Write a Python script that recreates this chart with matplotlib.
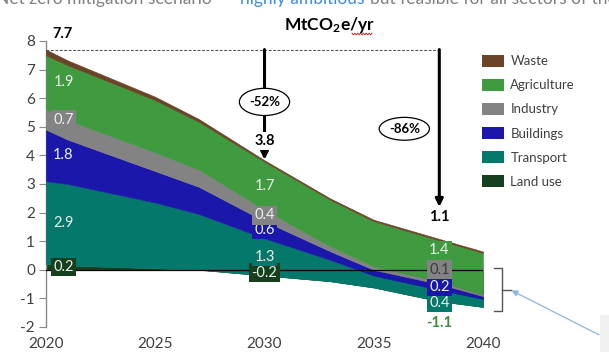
import numpy as np
import matplotlib
matplotlib.use("Agg")
import matplotlib.pyplot as plt
from matplotlib.patches import Ellipse, Rectangle, Patch

plt.rcParams["font.family"] = ["Lato", "DejaVu Sans"]
plt.rcParams["axes.unicode_minus"] = False
plt.rcParams["mathtext.fontset"] = "custom"
plt.rcParams["mathtext.bf"] = "Lato:bold"
plt.rcParams["mathtext.rm"] = "Lato"

# ---- data (MtCO2e/yr) ----
years = [2020, 2021, 2025, 2027, 2030, 2033, 2035, 2038, 2040]
land_use    = [0.20, 0.15, 0.05, 0.00, -0.20, -0.40, -0.62, -1.10, -1.30]
transport   = [2.90, 2.85, 2.30, 1.95, 1.30, 0.75, 0.42, 0.40, 0.28]
buildings   = [1.80, 1.55, 1.10, 0.95, 0.60, 0.30, 0.20, 0.20, 0.10]
industry    = [0.70, 0.68, 0.65, 0.60, 0.40, 0.17, 0.12, 0.10, 0.05]
agriculture = [1.90, 1.92, 1.83, 1.67, 1.68, 1.63, 1.58, 1.43, 1.46]
waste       = [0.20, 0.17, 0.12, 0.10, 0.05, 0.05, 0.05, 0.05, 0.05]

sector_names = ["Land use", "Transport", "Buildings", "Industry", "Agriculture", "Waste"]
sector_values = [land_use, transport, buildings, industry, agriculture, waste]
sector_colors = ["#173f1d", "#03786b", "#1c17ab", "#838383", "#3f9a40", "#6b4428"]

labelled_years = [2020, 2030, 2038]
reduction_years = [2030, 2038]
reduction_labels = ["-52%", "-86%"]
xtick_years = [2020, 2025, 2030, 2035, 2040]
yticks = list(range(-2, 9))

# ---- figure ----
W, H = 609, 352
fig = plt.figure(figsize=(W / 100, H / 100), dpi=100)
fig.patch.set_facecolor("white")
ax = fig.add_axes([46 / W, 1 - 327 / H, (483 - 46) / W, (327 - 41) / H])

yrs = np.array(years, dtype=float)
vals = np.array(sector_values, dtype=float)
cum = np.cumsum(vals, axis=0)
lower = np.vstack([np.zeros(len(years)), cum[:-1]])

for i, (name, col) in enumerate(zip(sector_names, sector_colors)):
    ax.fill_between(yrs, lower[i], cum[i], color=col, lw=0.4, edgecolor=col,
                    zorder=2 + i)
total = cum[-1]

ax.axhline(0, color="black", lw=0.9, zorder=10)

ax.set_xlim(2020, 2040)
ax.set_ylim(-2, 8)
ax.set_xticks(xtick_years)
ax.set_xticklabels([str(y) for y in xtick_years])
ax.set_yticks(yticks)
for s in ["top", "right", "bottom"]:
    ax.spines[s].set_visible(False)
ax.spines["left"].set_color("#8a8a8a")
ax.spines["left"].set_linewidth(1.0)
ax.tick_params(axis="y", direction="out", length=5, color="#8a8a8a",
               labelsize=11, labelcolor="#404040", pad=3)
ax.tick_params(axis="x", length=0, labelsize=11, labelcolor="#404040", pad=7.5)

# ---- segment labels ----
light = "#e9f1ea"
label_x = {2020: 2020.8, 2030: 2030.0, 2038: 2038.0}
# manual vertical placement where labels would collide
label_y_override = {
    (2038, "Agriculture"): 0.68,
    (2038, "Industry"): 0.0,
    (2038, "Buildings"): -0.6,
    (2038, "Transport"): -1.16,
    (2038, "Land use"): -1.85,
}
for yr in labelled_years:
    j = years.index(yr)
    for i, name in enumerate(sector_names):
        if name == "Waste":
            continue
        v = vals[i, j]
        ypos = label_y_override.get((yr, name), (lower[i, j] + cum[i, j]) / 2)
        txt = f"{v:.1f}"
        if yr == 2038 and name == "Land use":
            ax.text(label_x[yr], ypos, txt, ha="center", va="center",
                    fontsize=10.5, color="#3c8c3c", fontweight="bold", zorder=20)
            continue
        tcol = "#3a3a3a" if (yr == 2038 and name == "Industry") else light
        ax.text(label_x[yr], ypos, txt, ha="center", va="center", fontsize=10.5,
                color=tcol, zorder=20,
                bbox=dict(boxstyle="square,pad=0.16", fc=sector_colors[i],
                          ec="none"))

# ---- total and reduction markers ----
base = total[0]
ax.text(2020.3, 8.0, f"{base:.1f}", ha="left", va="bottom", fontsize=10.5,
        fontweight="bold", color="black", clip_on=False)
ax.plot([2020, reduction_years[-1]], [base, base], ls=(0, (2.5, 1.5)),
        color="#555555", lw=0.8, zorder=11, clip_on=False)

# 2030 arrow: ends at the total
j30 = years.index(reduction_years[0])
t30 = total[j30]
ax.annotate("", xy=(2030, t30 + 0.02), xytext=(2030, base),
            arrowprops=dict(arrowstyle="-|>", lw=2.2, color="black",
                            mutation_scale=11, shrinkA=0, shrinkB=0),
            zorder=12)
ax.text(2030, 4.5, f"{t30:.1f}", ha="center", va="center", fontsize=10.5,
        fontweight="bold", zorder=14,
        bbox=dict(boxstyle="square,pad=0.15", fc="white", ec="none"))
ax.add_patch(Ellipse((2030, 5.87), 2.3, 0.95, fc="white", ec="black",
                     lw=0.9, zorder=13))
ax.text(2030, 5.87, reduction_labels[0], ha="center", va="center",
        fontsize=9.5, fontweight="bold", zorder=14)

# 2038 arrow
j38 = years.index(reduction_years[1])
t38 = total[j38]
ax.annotate("", xy=(2038, 2.2), xytext=(2038, base),
            arrowprops=dict(arrowstyle="-|>", lw=2.2, color="black",
                            mutation_scale=11, shrinkA=0, shrinkB=0),
            zorder=12)
ax.text(2038, 1.85, f"{t38:.1f}", ha="center", va="center", fontsize=10.5,
        fontweight="bold", zorder=14)
ax.add_patch(Ellipse((2036.4, 4.93), 2.3, 0.8, fc="white", ec="black",
                     lw=0.9, zorder=13))
ax.text(2036.4, 4.93, reduction_labels[1], ha="center", va="center",
        fontsize=9.5, fontweight="bold", zorder=14)

# unit label
fig.text(330 / W, 1 - 25 / H, r"$\mathbf{MtCO_2e/yr}$", ha="center",
         va="center", fontsize=12.5, color="black")
zx = np.linspace(352, 372, 15)
zy = 34 + 0.8 * np.where(np.arange(15) % 2 == 0, -1, 1)
fig.add_artist(plt.Line2D(zx / W, 1 - zy / H, color="#e02020", lw=0.7,
                          transform=fig.transFigure))

# heading (cut by the top edge), pieces laid out one after another
fig.canvas.draw()
renderer = fig.canvas.get_renderer()
head_y = 1 - 4 / H
t1 = fig.text(226 / W, head_y, "Net zero mitigation scenario –", ha="right",
              va="baseline", fontsize=12.5, color="#808080")
t2 = fig.text(240 / W, head_y, "highly ambitious", ha="left",
              va="baseline", fontsize=12.5, color="#3d8ee0")
ext2 = t2.get_window_extent(renderer)
fig.text((ext2.x1 + 5) / W, head_y,
         "but feasible for all sectors of the economy",
         ha="left", va="baseline", fontsize=12.5, color="#808080")

# legend
handles = [Patch(fc=c, ec="none") for c in sector_colors[::-1]]
fig.legend(handles, sector_names[::-1], loc="upper left",
           bbox_to_anchor=(482 / W, 1 - 55 / H), frameon=False, fontsize=9.5,
           handlelength=1.7, handleheight=1.0, labelspacing=0.88,
           handletextpad=0.45, borderpad=0, borderaxespad=0,
           labelcolor="#404040")

# bracket around the below-zero part
bx = 2040.87
ax.plot([bx - 0.35, bx, bx, bx - 0.35], [0.05, 0.05, -1.45, -1.45],
        color="#555555", lw=1.0, clip_on=False)
ax.plot([bx, bx + 0.4], [-0.7, -0.7], color="#555555", lw=1.0, clip_on=False)

# corner box and pointer
fig.add_artist(Rectangle((600 / W, 0), 20 / W, 37 / H, fc="#f1f1f1",
                         ec="none", transform=fig.transFigure))
ax.annotate("", xy=(2041.3, -0.72), xytext=(2045.3, -2.27),
            arrowprops=dict(arrowstyle="-|>", lw=0.9, color="#8ab6e4",
                            mutation_scale=9, shrinkA=0, shrinkB=0),
            annotation_clip=False)

fig.savefig("out.png", dpi=100)
